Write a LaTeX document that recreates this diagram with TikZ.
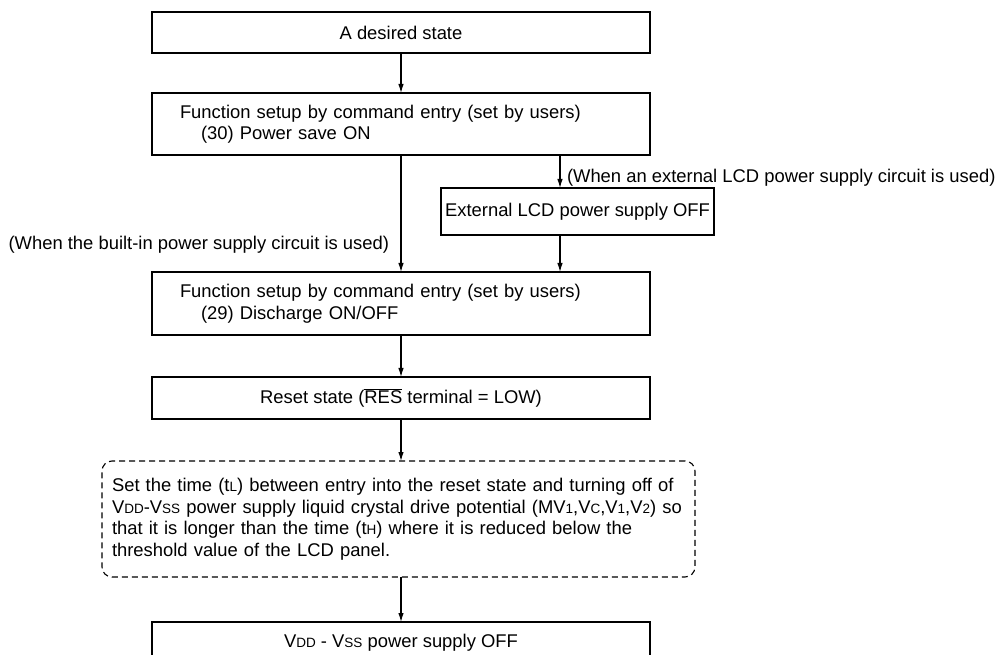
\documentclass[tikz,border=0pt]{standalone}
\usepackage{fontspec}
\setmainfont{Liberation Sans}
\usetikzlibrary{arrows.meta}
\newcommand{\sm}[1]{{\fontsize{13.5}{13.5}\selectfont #1}}
\begin{document}
\begin{tikzpicture}[x=1pt,y=-1pt,
  font=\fontsize{18.4}{21.5}\selectfont,
  box/.style={draw, line width=1.1pt, minimum width=498pt, inner sep=0pt, outer sep=0pt, anchor=north west},
  thickbox/.style={box, line width=2.8pt},
  dbox/.style={draw, line width=1.1pt, dash pattern=on 6pt off 4pt, rounded corners=10pt, inner sep=0pt, outer sep=0pt, anchor=north west},
  lbl/.style={inner sep=0pt, outer sep=0pt},
  arr/.style={-{Latex[length=9pt,width=5.5pt]}, line width=1.1pt}]
\useasboundingbox (0,0) rectangle (997,655);
\clip (0,0) rectangle (997,655);

\node[thickbox, minimum height=41pt] (top) at (152,12) {A desired state};

\node[box, minimum height=62pt, text width=442pt, inner xsep=28pt, align=left] (s2) at (152,93)
  {Function setup by command entry (set by users)\\\hspace*{21pt}(30) Power save ON};

\node[box, minimum width=273pt, minimum height=47pt] (ext) at (441,188) {External LCD power supply OFF};

\node[box, minimum height=63pt, text width=442pt, inner xsep=28pt, align=left] (s3) at (152,272)
  {Function setup by command entry (set by users)\\\hspace*{21pt}(29) Discharge ON/OFF};

\node[box, minimum height=42pt] (reset) at (152,377) {Reset state ($\overline{\mbox{RES}}$ terminal = LOW)};

\node[dbox, minimum width=593pt, minimum height=116pt, text width=573pt, inner xsep=10pt, align=left] (cond) at (102,461)
  {Set the time (t\sm{L}) between entry into the reset state and turning off of\\
   V\sm{DD}-V\sm{SS} power supply liquid crystal drive potential (MV\sm{1},V\sm{C},V\sm{1},V\sm{2}) so\\
   that it is longer than the time (t\sm{H}) where it is reduced below the\\
   threshold value of the LCD panel.};

\node[thickbox, minimum height=41pt] (bot) at (152,622) {V\sm{DD} - V\sm{SS} power supply OFF};

\node[lbl, anchor=west] (lext) at (567,178) {(When an external LCD power supply circuit is used)};
\node[lbl, anchor=east] (lbuilt) at (389,245) {(When the built-in power supply circuit is used)};

\coordinate (bx) at (560,0);
\draw[arr] (top.south) -- (s2.north);
\draw[arr] (s2.south -| bx) -- (ext.north -| bx);
\draw[arr] (ext.south -| bx) -- (s3.north -| bx);
\draw[arr] (s2.south) -- (s3.north);
\draw[arr] (s3.south) -- (reset.north);
\draw[arr] (reset.south) -- (cond.north -| reset.south);
\draw[arr] (cond.south -| bot.north) -- (bot.north);
\end{tikzpicture}
\end{document}
